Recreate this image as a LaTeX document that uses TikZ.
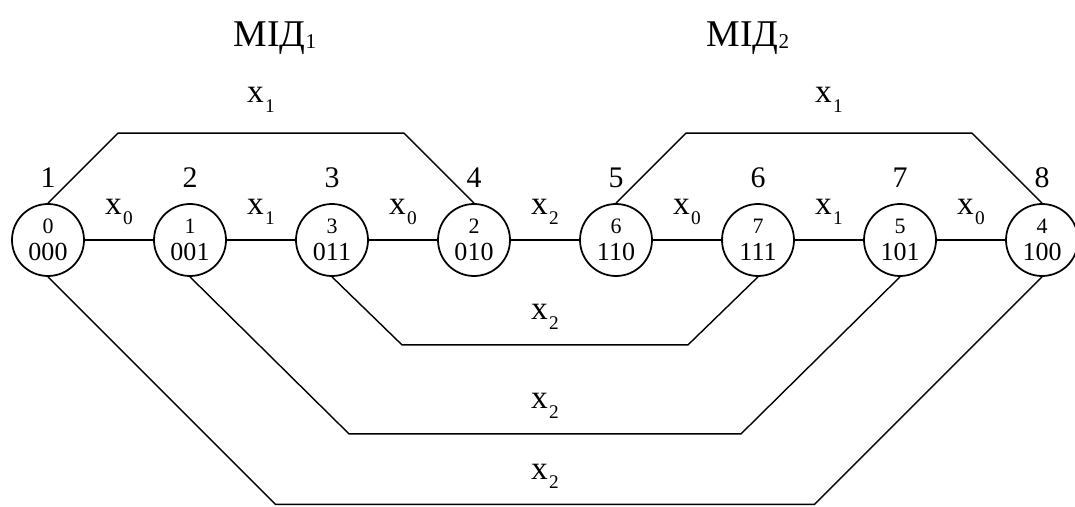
\documentclass[tikz,border=0pt]{standalone}
\usepackage{fontspec}
\setmainfont{Liberation Serif}
\usetikzlibrary{positioning,calc}
\newcommand{\xs}[1]{x\kern0.8pt\raisebox{-5.5pt}{\fontsize{11}{11}\selectfont #1}}
\newcommand{\idx}[1]{{\fontsize{12.5}{15.5}\selectfont #1}}
\newcommand{\midsub}[1]{\raisebox{-1pt}{\fontsize{12}{12}\selectfont #1}}
\tikzset{
  vtx/.style={circle,draw,line width=1pt,minimum size=14.4mm,inner sep=0pt,
    align=center,font=\fontsize{14.8}{15.5}\selectfont},
  num/.style={font=\fontsize{17}{17}\selectfont,inner sep=1mm},
  elab/.style={font=\fontsize{19}{19}\selectfont,inner sep=1mm},
  title/.style={font=\fontsize{21.5}{22}\selectfont},
  wire/.style={line width=0.8pt},
}
\begin{document}
\begin{tikzpicture}
  \useasboundingbox (0,0) rectangle (21.5,10.12);
  % vertices of the cube, in Gray code order
  \foreach \i/\d/\bits in {1/0/000,2/1/001,3/3/011,4/2/010,5/6/110,6/7/111,7/5/101,8/4/100}{
    \node[vtx] (n\i) at ({0.96+2.84*(\i-1)},5.32) {\idx{\d}\\\bits};
    \node[num,above=2mm of n\i] (t\i) {\i};
  }
  % links along the chain
  \foreach \a/\b/\v in {1/2/0,2/3/1,3/4/0,4/5/2,5/6/0,6/7/1,7/8/0}
    \draw[wire] (n\a) -- node[elab,above=2mm] (e\a) {\xs{\v}} (n\b);
  % upper links
  \draw[wire] (n1.north) -- ++(1.4,1.4)
    -- node[elab,above=3mm] (u1) {\xs{1}} ($(n4.north)+(-1.4,1.4)$) -- (n4.north);
  \draw[wire] (n5.north) -- ++(1.4,1.4)
    -- node[elab,above=3mm] (u2) {\xs{1}} ($(n8.north)+(-1.4,1.4)$) -- (n8.north);
  % lower links
  \draw[wire] (n3.south) -- ++(1.4,-1.36)
    -- node[elab,above=2mm] (d1) {\xs{2}} ($(n6.south)+(-1.4,-1.36)$) -- (n6.south);
  \draw[wire] (n2.south) -- ++(3.18,-3.14)
    -- node[elab,above=2mm] (d2) {\xs{2}} ($(n7.south)+(-3.18,-3.14)$) -- (n7.south);
  \draw[wire] (n1.south) -- ++(4.55,-4.55)
    -- node[elab,above=2mm] (d3) {\xs{2}} ($(n8.south)+(-4.55,-4.55)$) -- (n8.south);
  % groups
  \node[title] (m1) at (5.5,9.36) {МІД\midsub{1}};
  \node[title] (m2) at (14.96,9.36) {МІД\midsub{2}};
\end{tikzpicture}
\end{document}
